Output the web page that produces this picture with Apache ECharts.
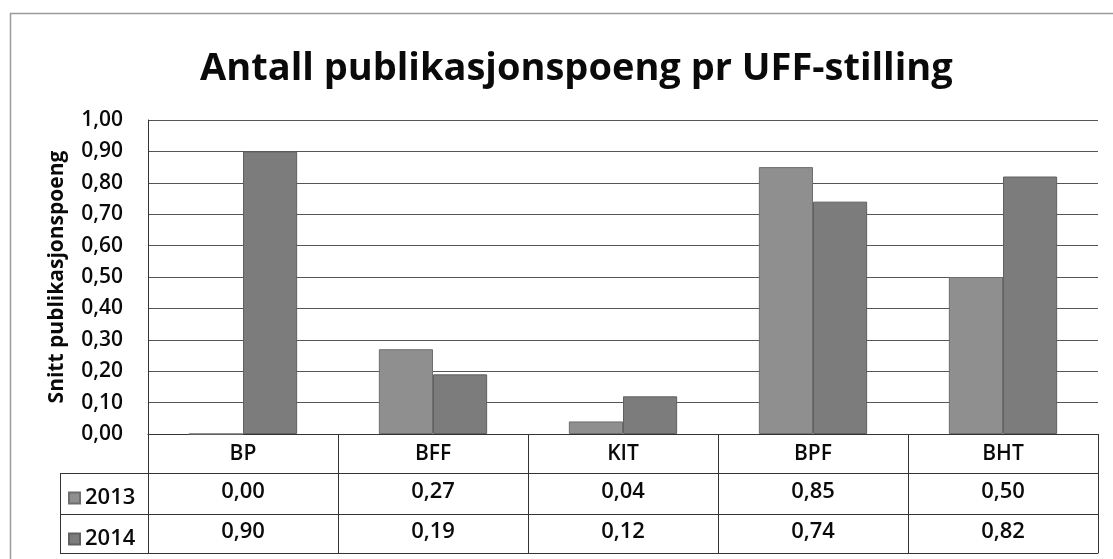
<!DOCTYPE html>
<html>
<head>
<meta charset="utf-8">
<script src="https://cdn.jsdelivr.net/npm/echarts@6/dist/echarts.min.js"></script>
<style>
html,body{margin:0;padding:0;background:#fff;}
#chart{width:1113px;height:559px;}
</style>
</head>
<body>
<div id="chart"></div>
<script>
var categories = ['BP', 'BFF', 'KIT', 'BPF', 'BHT'];
var seriesNames = ['2013', '2014'];
var values2013 = [0.00, 0.27, 0.04, 0.85, 0.50];
var values2014 = [0.90, 0.19, 0.12, 0.74, 0.82];
var yTicks = { min: 0, max: 1, interval: 0.1 };
var titleText = 'Antall publikasjonspoeng pr UFF-stilling';
var yAxisName = 'Snitt publikasjonspoeng';

function fmt(v) { return v.toFixed(2).replace('.', ','); }

var FONT = 'Open Sans';
var chart = echarts.init(document.getElementById('chart'), null, { renderer: 'canvas' });

var gridLeft = 148, gridRight = 15, gridTop = 120, gridBottom = 125;
var rowOff = [39, 80, 119];
var axisY = 559 - gridBottom;
var legendColLeft = 60;
var TXT = '#0a0a0a';
var W = 600;

var option = {
  backgroundColor: '#fff',
  animation: false,
  title: {
    text: titleText,
    left: 195,
    top: 45,
    textStyle: { fontFamily: FONT, fontSize: 38, fontWeight: 'bold', color: TXT }
  },
  legend: {
    data: seriesNames,
    orient: 'vertical',
    left: 63,
    top: axisY + rowOff[0] + 9,
    itemWidth: 11,
    itemHeight: 11,
    itemGap: 19,
    icon: 'rect',
    selectedMode: false,
    textStyle: { fontFamily: FONT, fontSize: 22, fontWeight: W, lineHeight: 22, color: TXT }
  },
  grid: { left: gridLeft, right: gridRight, top: gridTop, bottom: gridBottom, containLabel: false },
  xAxis: [
    {
      type: 'category', data: categories, position: 'bottom',
      axisLine: { show: true, lineStyle: { color: '#333', width: 1 } },
      axisTick: { show: true, interval: 0, length: rowOff[2], lineStyle: { color: '#333' } },
      axisLabel: { show: true, interval: 0, margin: 10, fontFamily: FONT, fontSize: 21, fontWeight: W, color: TXT }
    },
    {
      type: 'category', data: categories, position: 'bottom', offset: rowOff[0],
      axisLine: { show: true, lineStyle: { color: '#333', width: 1 } },
      axisTick: { show: false },
      axisLabel: { show: true, interval: 0, margin: 8, fontFamily: FONT, fontSize: 22, fontWeight: W, color: TXT,
        formatter: function (v, i) { return fmt(values2013[i]); } }
    },
    {
      type: 'category', data: categories, position: 'bottom', offset: rowOff[1],
      axisLine: { show: true, lineStyle: { color: '#333', width: 1 } },
      axisTick: { show: false },
      axisLabel: { show: true, interval: 0, margin: 7, fontFamily: FONT, fontSize: 22, fontWeight: W, color: TXT,
        formatter: function (v, i) { return fmt(values2014[i]); } }
    },
    {
      type: 'category', data: categories, position: 'bottom', offset: rowOff[2],
      axisLine: { show: true, lineStyle: { color: '#333', width: 1 } },
      axisTick: { show: false },
      axisLabel: { show: false }
    }
  ],
  yAxis: {
    type: 'value', min: yTicks.min, max: yTicks.max, interval: yTicks.interval,
    name: yAxisName, nameLocation: 'middle', nameRotate: 90, nameGap: 80,
    nameTextStyle: { fontFamily: FONT, fontSize: 21, fontWeight: 'bold', color: TXT },
    axisLine: { show: true, lineStyle: { color: '#333', width: 1 } },
    axisTick: { show: false },
    axisLabel: { margin: 25, fontFamily: FONT, fontSize: 21, fontWeight: W, color: TXT, formatter: function (v) { return fmt(v); } },
    splitLine: { show: true, lineStyle: { color: '#555', width: 1 } }
  },
  series: [
    {
      name: seriesNames[0], type: 'bar', data: values2013, xAxisIndex: 0,
      barGap: '0%', barCategoryGap: '43%',
      itemStyle: { color: '#8f8f8f', borderColor: '#6e6e6e', borderWidth: 1 }
    },
    {
      name: seriesNames[1], type: 'bar', data: values2014, xAxisIndex: 0,
      barGap: '0%', barCategoryGap: '43%',
      itemStyle: { color: '#7c7c7c', borderColor: '#606060', borderWidth: 1 }
    }
  ],
  graphic: [
    { type: 'rect', silent: true, shape: { x: 10.5, y: 13.5, width: 1120, height: 560 },
      style: { fill: null, stroke: '#9a9a9a', lineWidth: 1.5 } },
    { type: 'line', silent: true, shape: { x1: legendColLeft + 0.5, y1: axisY + rowOff[0], x2: legendColLeft + 0.5, y2: axisY + rowOff[2] },
      style: { stroke: '#333', lineWidth: 1 } },
    { type: 'line', silent: true, shape: { x1: legendColLeft, y1: axisY + rowOff[0] + 0.5, x2: gridLeft, y2: axisY + rowOff[0] + 0.5 },
      style: { stroke: '#333', lineWidth: 1 } },
    { type: 'line', silent: true, shape: { x1: legendColLeft, y1: axisY + rowOff[1] + 0.5, x2: gridLeft, y2: axisY + rowOff[1] + 0.5 },
      style: { stroke: '#333', lineWidth: 1 } },
    { type: 'line', silent: true, shape: { x1: legendColLeft, y1: axisY + rowOff[2] + 0.5, x2: gridLeft, y2: axisY + rowOff[2] + 0.5 },
      style: { stroke: '#333', lineWidth: 1 } }
  ]
};
chart.setOption(option);
</script>
</body>
</html>
